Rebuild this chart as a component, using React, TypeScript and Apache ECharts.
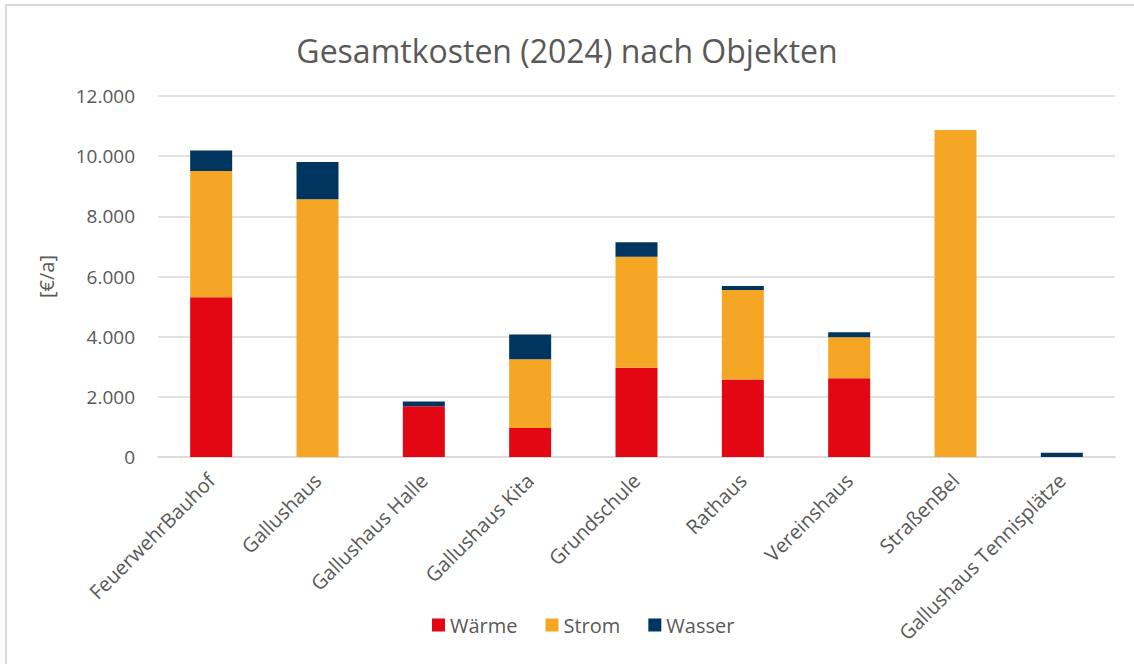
import React, { useEffect, useRef } from "react";
import * as echarts from "echarts";

const categories = [
  "FeuerwehrBauhof",
  "Gallushaus",
  "Gallushaus Halle",
  "Gallushaus Kita",
  "Grundschule",
  "Rathaus",
  "Vereinshaus",
  "StraßenBel",
  "Gallushaus Tennisplätze",
];
const waerme = [5310, 0, 1690, 960, 2965, 2575, 2620, 0, 0];
const strom = [4200, 8570, 0, 2290, 3695, 2975, 1360, 10870, 0];
const wasser = [680, 1240, 155, 820, 475, 135, 170, 0, 145];
const yTicks = [0, 2000, 4000, 6000, 8000, 10000, 12000];

const FONT = "'Open Sans', 'Noto Sans', sans-serif";
const TXT = "#595959";

function fmt(v: number): string {
  return String(Math.round(v)).replace(/\B(?=(\d{3})+(?!\d))/g, ".");
}

export default function App() {
  const ref = useRef<HTMLDivElement>(null);
  useEffect(() => {
    if (!ref.current) return;
    const chart = echarts.init(ref.current, undefined, { renderer: "svg" });
    const mk = (name: string, data: number[], color: string) => ({
      name,
      type: "bar",
      stack: "total",
      data,
      barWidth: 42,
      itemStyle: { color },
    });
    chart.setOption({
      animation: false,
      backgroundColor: "#ffffff",
      textStyle: { fontFamily: FONT },
      title: {
        text: "Gesamtkosten (2024) nach Objekten",
        left: "center",
        top: 29,
        textStyle: { fontFamily: FONT, fontSize: 32, fontWeight: "normal", color: TXT },
      },
      graphic: [
        { type: "line", shape: { x1: 5, y1: 5, x2: 1134, y2: 5 }, style: { stroke: "#d9d9d9", lineWidth: 2 } },
        { type: "line", shape: { x1: 6, y1: 5, x2: 6, y2: 664 }, style: { stroke: "#d9d9d9", lineWidth: 2 } },
      ],
      legend: {
        bottom: 24,
        left: 427,
        itemWidth: 13,
        itemHeight: 13,
        itemGap: 28,
        icon: "rect",
        textStyle: { fontFamily: FONT, fontSize: 20, color: TXT },
        data: ["Wärme", "Strom", "Wasser"],
      },
      grid: { left: 158, right: 19, top: 96, bottom: 207 },
      xAxis: {
        type: "category",
        data: categories,
        axisLine: { lineStyle: { color: "#d9d9d9", width: 1.5 } },
        axisTick: { show: false },
        axisLabel: {
          rotate: 45,
          interval: 0,
          fontFamily: FONT,
          fontSize: 20,
          color: TXT,
          margin: 20,
        },
      },
      yAxis: {
        type: "value",
        min: 0,
        max: yTicks[yTicks.length - 1],
        interval: 2000,
        name: "[€/a]",
        nameLocation: "middle",
        nameRotate: 90,
        nameGap: 102,
        nameTextStyle: { fontFamily: FONT, fontSize: 20, color: TXT },
        axisLine: { show: false },
        axisTick: { show: false },
        splitLine: { lineStyle: { color: "#d9d9d9", width: 1.5 } },
        axisLabel: {
          fontFamily: FONT,
          fontSize: 19,
          color: TXT,
          margin: 23,
          formatter: (v: number) => fmt(v),
        },
      },
      series: [
        mk("Wärme", waerme, "#e30613"),
        mk("Strom", strom, "#f6a625"),
        mk("Wasser", wasser, "#003560"),
      ],
    });
    return () => chart.dispose();
  }, []);
  return (
    <div
      ref={ref}
      style={{ position: "fixed", left: 0, top: 0, width: 1134, height: 664, background: "#fff" }}
    />
  );
}
